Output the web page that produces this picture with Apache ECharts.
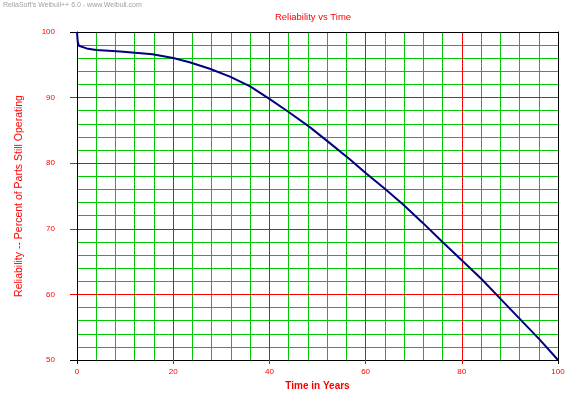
<!DOCTYPE html>
<html>
<head>
<meta charset="utf-8">
<script src="https://cdn.jsdelivr.net/npm/echarts@6/dist/echarts.min.js"></script>
<style>
html,body{margin:0;padding:0;background:#fff;}
#chart{width:571px;height:398px;}
</style>
</head>
<body>
<div id="chart"></div>
<script>
// Data
const timeYears   = [0, 0.15, 0.4, 0.8, 2, 4, 9, 15.7, 20, 23.4, 27.6, 31.8, 36, 40, 44, 48.4, 52.5, 56.7, 60.2, 64, 67.8, 71.9, 76.1, 80, 84.1, 88.2, 92, 96.2, 100];
const reliability = [100, 98.5, 97.9, 97.7, 97.5, 97.26, 97.04, 96.6, 96.05, 95.4, 94.4, 93.2, 91.7, 89.8, 87.8, 85.5, 83.1, 80.6, 78.4, 76.1, 73.7, 70.9, 67.9, 65.2, 62.35, 59.2, 56.3, 53.1, 50];
const titleText = 'Reliability vs Time';
const watermarkText = "ReliaSoft's Weibull++ 6.0 - www.Weibull.com";
const xName = 'Time in Years';
const yName = 'Reliability -- Percent of Parts Still Operating';
// grid positions
const xMinorGrid = [4, 8, 12, 16, 24, 28, 32, 36, 44, 48, 52, 56, 64, 68, 72, 76, 84, 88, 92, 96];
const yMinorGrid = [52, 54, 56, 58, 62, 64, 66, 68, 72, 74, 76, 78, 82, 84, 86, 88, 92, 94, 96, 98];
const xMajorGrid = [20, 40, 60, 80];
const yMajorGrid = [60, 70, 80, 90];
const xEndTicks = [0, 100];
const yEndTicks = [50, 100];

const FONT = '"Liberation Sans", Arial, sans-serif';
const RED = '#ff0000', GREEN = '#00c800', BLACK = '#000000', NAVY = '#000080';
const NONE = 'rgba(0,0,0,0)';

const chart = echarts.init(document.getElementById('chart'), null, {renderer: 'canvas'});
const seriesData = timeYears.map((t, i) => [t, reliability[i]]);

function plainAxis(min, max, interval, position, extra) {
  return Object.assign({
    type: 'value', min: min, max: max, interval: interval, position: position,
    axisLine: {show: false, onZero: false},
    axisTick: {show: false},
    axisLabel: {show: false},
    splitLine: {show: false, lineStyle: {color: NONE}},
    minorTick: {show: false},
    minorSplitLine: {show: false, lineStyle: {color: NONE}},
    splitArea: {show: false}
  }, extra);
}

const option = {
  animation: false,
  backgroundColor: '#fff',
  graphic: [
    {type: 'text', left: 3, top: 2, style: {text: watermarkText, fill: '#a0a0a0', font: '7px ' + FONT}},
    {type: 'text', x: 313, y: 17, style: {text: titleText, fill: RED, font: '9.5px ' + FONT, align: 'center', verticalAlign: 'middle'}}
  ],
  grid: {left: 77, top: 32, width: 481, height: 328, containLabel: false},
  xAxis: [
    // minor green grid
    plainAxis(0, 100, 4, 'bottom', {
      axisTick: {show: false, customValues: xMinorGrid},
      splitLine: {show: true, lineStyle: {color: GREEN, width: 1}}, z: 1
    }),
    // main axis with red major grid
    {
      type: 'value', min: 0, max: 100, interval: 20, position: 'bottom',
      name: xName, nameLocation: 'middle', nameGap: 20,
      nameTextStyle: {color: RED, fontSize: 10, fontWeight: 'bold', fontFamily: FONT},
      axisLine: {show: true, onZero: false, lineStyle: {color: BLACK, width: 1}},
      axisTick: {show: true, length: 4, customValues: xMajorGrid, lineStyle: {color: RED}},
      axisLabel: {color: RED, fontSize: 8, fontFamily: FONT, margin: 8},
      splitLine: {show: true, lineStyle: {color: RED, width: 1}},
      minorTick: {show: false},
      minorSplitLine: {show: false},
      z: 3
    },
    plainAxis(0, 100, 20, 'top', {axisLine: {show: true, onZero: false, lineStyle: {color: BLACK, width: 1}}, z: 3}),
    plainAxis(0, 100, 20, 'bottom', {axisTick: {show: true, length: 4, customValues: xEndTicks, lineStyle: {color: BLACK}}, z: 4})
  ],
  yAxis: [
    plainAxis(50, 100, 2, 'left', {
      axisTick: {show: false, customValues: yMinorGrid},
      splitLine: {show: true, lineStyle: {color: GREEN, width: 1}}, z: 1
    }),
    {
      type: 'value', min: 50, max: 100, interval: 10, position: 'left',
      name: yName, nameLocation: 'middle', nameGap: 52, nameRotate: 90,
      nameTextStyle: {color: RED, fontSize: 10.5, fontFamily: FONT},
      axisLine: {show: true, onZero: false, lineStyle: {color: BLACK, width: 1}},
      axisTick: {show: true, length: 7, customValues: yMajorGrid, lineStyle: {color: RED}},
      axisLabel: {color: RED, fontSize: 8, fontFamily: FONT, margin: 22},
      splitLine: {show: true, lineStyle: {color: RED, width: 1}},
      minorTick: {show: false},
      minorSplitLine: {show: false},
      z: 3
    },
    plainAxis(50, 100, 10, 'right', {axisLine: {show: true, onZero: false, lineStyle: {color: BLACK, width: 1}}, z: 3}),
    plainAxis(50, 100, 10, 'left', {axisTick: {show: true, length: 7, customValues: yEndTicks, lineStyle: {color: BLACK}}, z: 4})
  ],
  series: [{
    type: 'line',
    xAxisIndex: 1, yAxisIndex: 1,
    data: seriesData,
    showSymbol: false,
    symbol: 'none',
    smooth: false,
    lineStyle: {color: NAVY, width: 2},
    z: 10
  }]
};
chart.setOption(option);
</script>
</body>
</html>
